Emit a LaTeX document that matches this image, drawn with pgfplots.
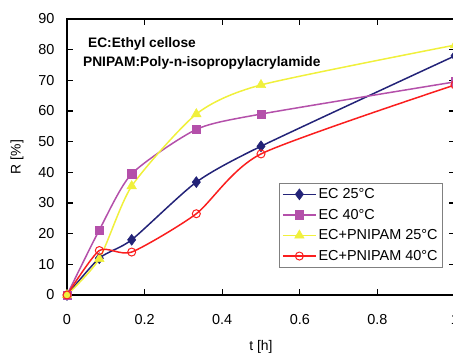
\documentclass[border=0pt]{standalone}
\usepackage{pgfplots}
\pgfplotsset{compat=1.18}
\usepackage{fontspec}
\setmainfont{Liberation Sans}
\definecolor{cA}{RGB}{35,35,120}
\definecolor{cB}{RGB}{180,80,170}
\definecolor{cC}{RGB}{240,240,60}
\definecolor{cD}{RGB}{250,30,30}
\begin{document}
\begin{tikzpicture}
\path[use as bounding box] (0,0) rectangle (453bp,354bp);
\begin{axis}[
  at={(67bp,59bp)}, anchor=south west,
  scale only axis, width=388bp, height=276bp,
  xmin=0, xmax=1, ymin=0, ymax=90,
  xtick={0,0.2,0.4,0.6,0.8,1},
  ytick={0,10,...,90},
  tick align=inside,
  major tick length=6bp,
  axis line style={line width=1.6pt},
  every tick/.style={black, line width=1.2pt},
  tick label style={font=\fontsize{14.5}{16}\selectfont},
  /pgf/number format/assume math mode=true,
  xticklabel style={yshift=-16bp},
  yticklabel style={xshift=-9bp},
  xlabel={t [h]}, ylabel={R [\%]},
  label style={font=\fontsize{14}{16}\selectfont},
  xlabel style={yshift=-9bp},
  ylabel style={yshift=8bp},
  legend style={at={(0.969,0.101)}, anchor=south east,
    draw=gray, line width=0.6pt, font=\fontsize{14.5}{16}\selectfont,
    row sep=5bp, inner sep=3bp},
  legend cell align=left,
  legend image code/.code={
    \draw[mark repeat=2,mark phase=2,#1] plot coordinates {(0cm,0cm) (0.58cm,0cm) (1.16cm,0cm)};},
  clip=false,
]
\addplot[cA, line width=1.5pt, smooth, tension=0.4, mark=diamond*, mark size=5.5bp, mark options={solid, fill=cA, line width=0.5pt}]
  coordinates {(0,0) (0.0833,12) (0.1667,18) (0.3333,36.8) (0.5,48.5) (1,78)};
\addlegendentry{EC 25°C}
\addplot[cB, line width=1.5pt, smooth, tension=0.4, mark=square*, mark size=4.2bp, mark options={solid, fill=cB, line width=0.5pt}]
  coordinates {(0,0) (0.0833,21.2) (0.1667,39.5) (0.3333,54) (0.5,59) (1,69.5)};
\addlegendentry{EC 40°C}
\addplot[cC, line width=1.5pt, smooth, tension=0.4, mark=triangle*, mark size=5.5bp, mark options={solid, fill=cC, line width=0.5pt}]
  coordinates {(0,0) (0.0833,11.8) (0.1667,35.5) (0.3333,59) (0.5,68.5) (1,81.5)};
\addlegendentry{EC+PNIPAM 25°C}
\addplot[cD, line width=1.5pt, smooth, tension=0.4, mark=o, mark size=4bp, mark options={solid, line width=1pt}]
  coordinates {(0,0) (0.0833,14.5) (0.1667,14) (0.3333,26.5) (0.5,46) (1,68.5)};
\addlegendentry{EC+PNIPAM 40°C}
\node[anchor=west, font=\bfseries\fontsize{13.8}{15}\selectfont, inner sep=0pt] at (rel axis cs:0.054,0.91) {EC:Ethyl cellose};
\node[anchor=west, font=\bfseries\fontsize{13.8}{15}\selectfont, inner sep=0pt] at (rel axis cs:0.041,0.841) {PNIPAM:Poly-n-isopropylacrylamide};
\end{axis}
\end{tikzpicture}
\end{document}
